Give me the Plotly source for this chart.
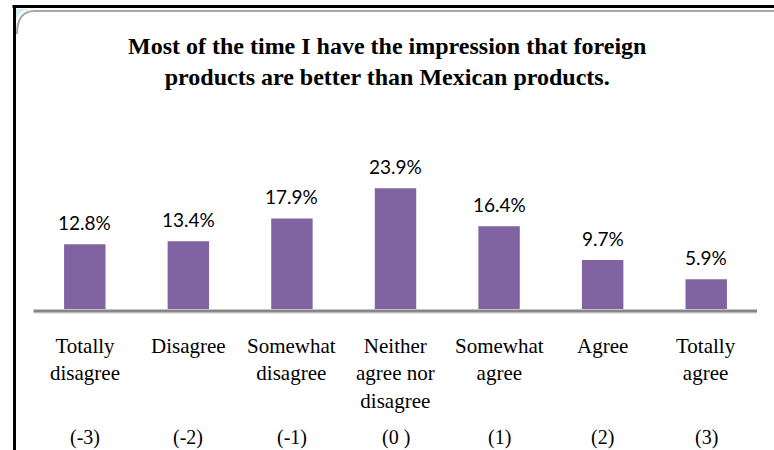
import plotly.graph_objects as go

# Survey item: share of answers per point on the 7-point agreement scale
categories = ["Totally<br>disagree", "Disagree", "Somewhat<br>disagree",
              "Neither<br>agree nor<br>disagree", "Somewhat<br>agree", "Agree",
              "Totally<br>agree"]
scale_codes = ["(-3)", "(-2)", "(-1)", "(0 )", "(1)", "(2)", "(3)"]
percentages = [12.8, 13.4, 17.9, 23.9, 16.4, 9.7, 5.9]
title_text = ("<b>Most of the time I have the impression that foreign<br>"
              "products are better than Mexican products.</b>")

W, H = 774, 450
ML, MR, MT, MB = 32.5, 16, 156, 141
PW, PH = W - ML - MR, H - MT - MB


def fx(px):
    """Pixel column -> paper x."""
    return (px - ML) / PW


def fy(py):
    """Pixel row -> paper y."""
    return (H - MB - py) / PH


xs = list(range(len(categories)))
BAR_COLOR = "#8064A2"
SERIF = "Liberation Serif, Times New Roman, serif"
SANS = "Lato, Carlito, Calibri, sans-serif"

fig = go.Figure(
    go.Bar(x=xs, y=percentages, marker=dict(color=BAR_COLOR, line=dict(width=0)),
           width=0.4, hoverinfo="skip")
)

annotations = [
    dict(x=fx(387), y=fy(61), xref="paper", yref="paper", text=title_text,
         showarrow=False, xanchor="center", yanchor="middle",
         font=dict(family=SERIF, size=24, color="#000000")),
]
# value labels above bars
for x, v in zip(xs, percentages):
    annotations.append(dict(x=x, y=v, xref="x", yref="y", text=f"{v}%",
                            showarrow=False, yanchor="middle", yshift=22,
                            font=dict(family=SANS, size=19, color="#000000")))
# category names and scale codes under the axis
for x, c, code in zip(xs, categories, scale_codes):
    annotations.append(dict(x=x, y=fy(332), xref="x", yref="paper", text=c,
                            showarrow=False, yanchor="top",
                            font=dict(family=SERIF, size=21, color="#000000")))
    annotations.append(dict(x=x, y=fy(449.5), xref="x", yref="paper", text=code,
                            showarrow=False, yanchor="bottom", borderpad=0,
                            font=dict(family=SERIF, size=20, color="#000000")))

shapes = [
    # chart frame: corner fill, grey inner edge, black outer edge
    dict(type="path", xref="paper", yref="paper",
         path=f"M {fx(15)},{fy(26)} Q {fx(15)},{fy(9)} {fx(32)},{fy(9)} L {fx(15)},{fy(9)} Z",
         fillcolor="#c9f1f2", line=dict(width=0), layer="above"),
    dict(type="path", xref="paper", yref="paper",
         path=f"M {fx(16.5)},{fy(34)} Q {fx(16.5)},{fy(11)} {fx(34)},{fy(11)} L {fx(774)},{fy(11)}",
         line=dict(color="#a8a8a8", width=2), layer="above"),
    dict(type="rect", xref="paper", yref="paper",
         x0=fx(12), x1=fx(774), y0=fy(5), y1=fy(8),
         fillcolor="#000000", line=dict(width=0), layer="above"),
    dict(type="rect", xref="paper", yref="paper",
         x0=fx(12.5), x1=fx(15.5), y0=fy(5), y1=fy(450),
         fillcolor="#000000", line=dict(width=0), layer="above"),
    # category axis line
    dict(type="line", xref="paper", yref="paper",
         x0=fx(33), x1=fx(757), y0=fy(313), y1=fy(313),
         line=dict(color="#d0d0d0", width=1)),
    dict(type="line", xref="paper", yref="paper",
         x0=fx(33), x1=fx(757), y0=fy(311), y1=fy(311),
         line=dict(color="#878787", width=3)),
]

fig.update_layout(
    width=W, height=H,
    margin=dict(l=ML, r=MR, t=MT, b=MB, pad=0),
    paper_bgcolor="#ffffff", plot_bgcolor="#ffffff",
    showlegend=False,
    xaxis=dict(range=[-0.5, 6.5], showticklabels=False, showgrid=False,
               zeroline=False, showline=False, fixedrange=True),
    yaxis=dict(range=[0, PH / 5.05], showticklabels=False, showgrid=False,
               zeroline=False, showline=False, fixedrange=True),
    annotations=annotations,
    shapes=shapes,
)

fig.write_html("out.html", config={"displayModeBar": False})
